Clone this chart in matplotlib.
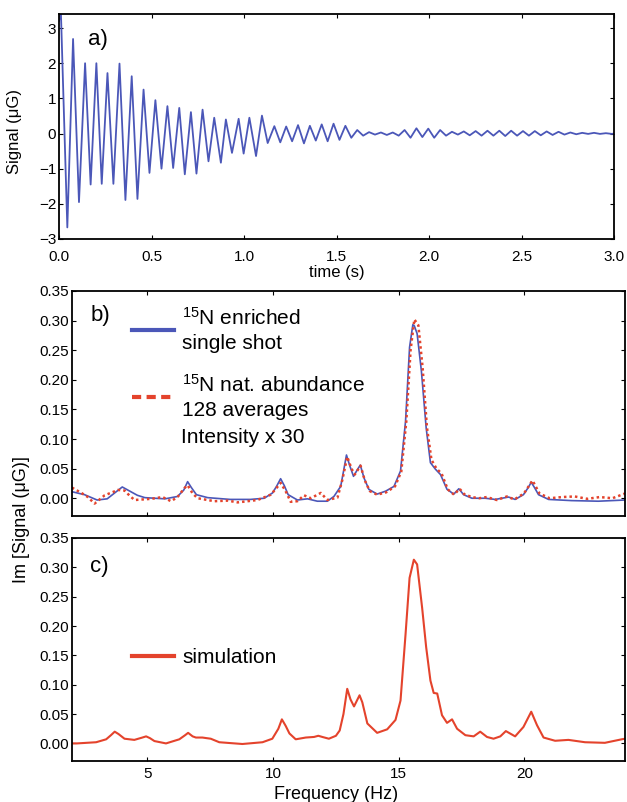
import numpy as np
import matplotlib
matplotlib.use("Agg")
import matplotlib.pyplot as plt
from matplotlib.lines import Line2D

plt.rcParams["font.family"] = "Liberation Sans"
plt.rcParams["mathtext.fontset"] = "custom"
plt.rcParams["mathtext.rm"] = "Liberation Sans"
plt.rcParams["mathtext.it"] = "Liberation Sans:italic"

# a) time signal, read off as the turning points of the trace
fid_t = [0.000, 0.010, 0.045, 0.076, 0.108, 0.141, 0.171, 0.202, 0.231, 0.262,
         0.294, 0.327, 0.359, 0.393, 0.424, 0.457, 0.489, 0.521, 0.554, 0.586,
         0.617, 0.650, 0.680, 0.713, 0.743, 0.776, 0.808, 0.839, 0.875, 0.902,
         0.935, 0.971, 0.998, 1.029, 1.065, 1.097, 1.128, 1.164, 1.196, 1.228,
         1.260, 1.292, 1.324, 1.356, 1.388, 1.420, 1.452, 1.484, 1.516, 1.548,
         1.580, 1.612, 1.644, 1.676, 1.708, 1.740, 1.772, 1.804, 1.836, 1.868,
         1.900, 1.932, 1.964, 1.996, 2.028, 2.060, 2.092, 2.124, 2.156, 2.188,
         2.220, 2.252, 2.284, 2.316, 2.348, 2.380, 2.412, 2.444, 2.476, 2.508,
         2.540, 2.572, 2.604, 2.636, 2.668, 2.700, 2.732, 2.764, 2.796, 2.828,
         2.860, 2.892, 2.924, 2.956, 2.988, 3.000]
fid_v = [3.20, 3.50, -2.67, 2.69, -1.95, 2.00, -1.45, 2.00, -1.43, 1.72,
         -1.43, 1.99, -1.89, 1.63, -1.86, 1.25, -1.12, 0.95, -1.00, 0.78,
         -0.98, 0.73, -1.16, 0.61, -1.14, 0.68, -0.79, 0.45, -0.83, 0.40,
         -0.55, 0.42, -0.57, 0.45, -0.64, 0.51, -0.27, 0.21, -0.25, 0.20,
         -0.22, 0.24, -0.28, 0.22, -0.20, 0.26, -0.22, 0.28, -0.18, 0.22,
         -0.12, 0.10, -0.06, 0.04, -0.03, 0.03, -0.04, 0.03, -0.06, 0.10,
         -0.12, 0.15, -0.10, 0.14, -0.12, 0.10, -0.06, 0.05, -0.03, 0.06,
         -0.05, 0.07, -0.06, 0.08, -0.06, 0.08, -0.07, 0.08, -0.06, 0.07,
         -0.06, 0.07, -0.05, 0.06, -0.04, 0.05, -0.03, 0.03, -0.02, 0.02,
         -0.01, 0.02, -0.01, 0.01, -0.01, 0.00]

# b) 15N enriched, single shot
freq_enr = [2.0, 2.5, 3.0, 3.4, 3.7, 4.0, 4.3, 4.6, 4.9, 5.3, 5.7, 6.2, 6.45, 6.6,
            6.75, 6.95, 7.4, 8.3, 9.1, 9.65, 9.98, 10.15, 10.3, 10.45, 10.6, 10.97,
            11.37, 11.76, 12.16, 12.42, 12.69, 12.8, 12.92, 13.05, 13.2, 13.35,
            13.47, 13.62, 13.81, 14.14, 14.48, 14.81, 15.07, 15.27, 15.43, 15.56,
            15.62, 15.73, 15.9, 16.09, 16.26, 16.46, 16.66, 16.92, 17.19, 17.39,
            17.58, 17.91, 18.44, 18.84, 19.37, 19.63, 19.96, 20.15, 20.27, 20.4,
            20.56, 20.96, 21.88, 22.94, 24.0]
sig_enr = [0.011, 0.006, -0.003, -0.001, 0.009, 0.019, 0.012, 0.005, 0.001, 0.000,
           -0.001, 0.003, 0.014, 0.028, 0.018, 0.006, 0.001, -0.002, -0.002, 0.000,
           0.009, 0.021, 0.033, 0.021, 0.006, -0.003, -0.001, -0.005, -0.005, 0.003,
           0.020, 0.045, 0.073, 0.055, 0.037, 0.048, 0.056, 0.034, 0.015, 0.007,
           0.012, 0.020, 0.046, 0.130, 0.255, 0.293, 0.291, 0.278, 0.215, 0.119,
           0.060, 0.049, 0.040, 0.015, 0.007, 0.016, 0.006, 0.000, 0.000, -0.002,
           0.002, -0.002, 0.006, 0.018, 0.027, 0.018, 0.006, -0.002, -0.004, -0.005,
           -0.003]

# b) natural abundance, 128 averages, x30
freq_nat = [2.0, 2.37, 2.6, 2.9, 3.1, 3.3, 3.6, 3.83, 4.09, 4.3, 4.49, 5.15, 5.6,
            5.94, 6.2, 6.47, 6.6, 6.8, 7.0, 7.66, 8.2, 8.59, 9.38, 9.91, 10.15,
            10.3, 10.5, 10.7, 10.97, 11.23, 11.5, 11.9, 12.16, 12.56, 12.75, 12.95,
            13.12, 13.25, 13.48, 13.65, 13.85, 14.14, 14.5, 14.85, 15.1, 15.3,
            15.47, 15.62, 15.78, 15.95, 16.12, 16.3, 16.5, 16.7, 16.95, 17.2,
            17.42, 17.6, 17.9, 18.2, 18.5, 18.9, 19.3, 19.6, 19.98, 20.32, 20.6,
            21.0, 21.5, 22.0, 22.5, 23.0, 23.5, 24.0]
sig_nat = [0.018, 0.009, 0.003, -0.009, -0.002, 0.005, 0.010, 0.014, 0.013, 0.004,
           -0.003, -0.001, 0.002, -0.005, 0.002, 0.017, 0.022, 0.008, 0.000, -0.005,
           -0.004, -0.007, -0.003, 0.006, 0.018, 0.026, 0.012, -0.006, -0.005, 0.005,
           0.000, 0.009, -0.003, 0.001, 0.030, 0.070, 0.050, 0.040, 0.055, 0.030,
           0.012, 0.006, 0.010, 0.020, 0.045, 0.130, 0.250, 0.302, 0.292, 0.220,
           0.120, 0.065, 0.050, 0.042, 0.015, 0.006, 0.016, 0.007, 0.002, 0.000,
           0.002, -0.003, 0.003, -0.002, 0.008, 0.030, 0.008, 0.000, 0.002, 0.003,
           -0.001, 0.002, 0.000, 0.008]

# c) simulation
freq_sim = [2.0, 2.2, 2.96, 3.36, 3.55, 3.7, 3.85, 4.09, 4.48, 4.8, 4.95, 5.1, 5.28,
            5.74, 6.27, 6.5, 6.62, 6.8, 6.93, 7.19, 7.35, 7.52, 7.86, 8.78, 9.58,
            9.97, 10.21, 10.35, 10.5, 10.65, 10.9, 11.3, 11.63, 11.8, 11.96, 12.22,
            12.5, 12.65, 12.8, 12.95, 13.08, 13.22, 13.44, 13.55, 13.75, 14.14,
            14.54, 14.87, 15.07, 15.27, 15.43, 15.6, 15.73, 15.93, 16.09, 16.26,
            16.39, 16.53, 16.72, 16.92, 17.12, 17.32, 17.65, 17.98, 18.24, 18.51,
            18.77, 19.04, 19.26, 19.63, 19.96, 20.27, 20.5, 20.76, 21.22, 21.75,
            22.41, 23.2, 23.87, 24.0]
sig_sim = [0.000, 0.000, 0.002, 0.007, 0.014, 0.020, 0.016, 0.008, 0.006, 0.010,
           0.012, 0.009, 0.004, 0.000, 0.007, 0.014, 0.018, 0.012, 0.010, 0.010,
           0.009, 0.008, 0.002, -0.001, 0.002, 0.008, 0.025, 0.041, 0.030, 0.017,
           0.007, 0.010, 0.011, 0.013, 0.011, 0.008, 0.013, 0.022, 0.050, 0.093,
           0.075, 0.063, 0.082, 0.070, 0.034, 0.018, 0.024, 0.040, 0.073, 0.186,
           0.282, 0.313, 0.305, 0.231, 0.164, 0.107, 0.086, 0.085, 0.048, 0.035,
           0.041, 0.025, 0.014, 0.012, 0.020, 0.011, 0.008, 0.012, 0.021, 0.012,
           0.028, 0.054, 0.031, 0.010, 0.0045, 0.006, 0.002, 0.001, 0.007, 0.008]

blue = "#4b57b8"
red = "#e4432c"

fig = plt.figure(figsize=(6.27, 8.02), dpi=100)
ax_a = fig.add_axes([0.0941, 0.7020, 0.8852, 0.2805])
ax_b = fig.add_axes([0.1148, 0.3566, 0.8820, 0.2806])
ax_c = fig.add_axes([0.1148, 0.0511, 0.8820, 0.2781])

for ax in (ax_a, ax_b, ax_c):
    for s in ax.spines.values():
        s.set_linewidth(1.3)
    ax.tick_params(direction="in", top=True, right=True, length=3, width=0.8,
                   labelsize=11, pad=2)

# panel a
ax_a.plot(fid_t, fid_v, color=blue, lw=1.3)
ax_a.set_xlim(0, 3)
ax_a.set_ylim(-3, 3.4)
ax_a.set_xticks(np.arange(0, 3.01, 0.5))
ax_a.set_xticklabels(["%.1f" % v for v in np.arange(0, 3.01, 0.5)])
ax_a.set_yticks(range(-3, 4))
ax_a.tick_params(axis="x", pad=8)
ax_a.set_xlabel("time (s)", fontsize=12, labelpad=1)
ax_a.set_ylabel("Signal (μG)", fontsize=12)
ax_a.yaxis.set_label_coords(-0.067, 0.48)
ax_a.text(0.052, 0.889, "a)", transform=ax_a.transAxes, fontsize=16, va="center")

# panel b
ax_b.plot(freq_enr, sig_enr, color=blue, lw=1.2)
ax_b.plot(freq_nat, sig_nat, color=red, lw=1.8, ls=(0, (1.0, 1.2)))
for ax in (ax_b, ax_c):
    ax.set_xlim(2, 24)
    ax.set_ylim(-0.03, 0.35)
    ax.set_xticks([5, 10, 15, 20])
    ax.set_yticks(np.arange(0, 0.351, 0.05))
    ax.set_yticklabels(["%.2f" % v for v in np.arange(0, 0.351, 0.05)])
ax_b.set_xticklabels([])
ax_b.text(0.033, 0.889, "b)", transform=ax_b.transAxes, fontsize=16, va="center")

handles = [Line2D([], [], color=blue, lw=3),
           Line2D([], [], color=red, lw=3, ls=(0, (2.2, 1.3)))]
labels = ["$^{15}$N enriched\nsingle shot", "$^{15}$N nat. abundance\n128 averages"]
leg = ax_b.legend(handles, labels, loc="upper left", bbox_to_anchor=(0.1085, 0.928),
                  frameon=False, fontsize=15, handlelength=2.0, handletextpad=0.4,
                  labelspacing=1.0, borderpad=0, borderaxespad=0)
for t in leg.get_texts():
    t.set_linespacing(1.35)
ax_b.text(0.198, 0.347, "Intensity x 30", transform=ax_b.transAxes, fontsize=15,
          va="center")

# panel c
ax_c.plot(freq_sim, sig_sim, color=red, lw=1.5)
ax_c.tick_params(axis="x", pad=4)
ax_c.text(0.033, 0.87, "c)", transform=ax_c.transAxes, fontsize=16, va="center")
ax_c.legend([Line2D([], [], color=red, lw=3)], ["simulation"], loc="center left",
            bbox_to_anchor=(0.1085, 0.462), frameon=False, fontsize=15,
            handlelength=2.0, handletextpad=0.4, borderpad=0, borderaxespad=0)
ax_c.set_xlabel("Frequency (Hz)", fontsize=13, labelpad=0)
ax_c.xaxis.set_label_coords(0.477, -0.11)

fig.text(22 / 627, 1 - 520 / 802, "Im [Signal (μG)]", rotation=90, fontsize=13,
         ha="center", va="center")

fig.savefig("out.png", dpi=100)
